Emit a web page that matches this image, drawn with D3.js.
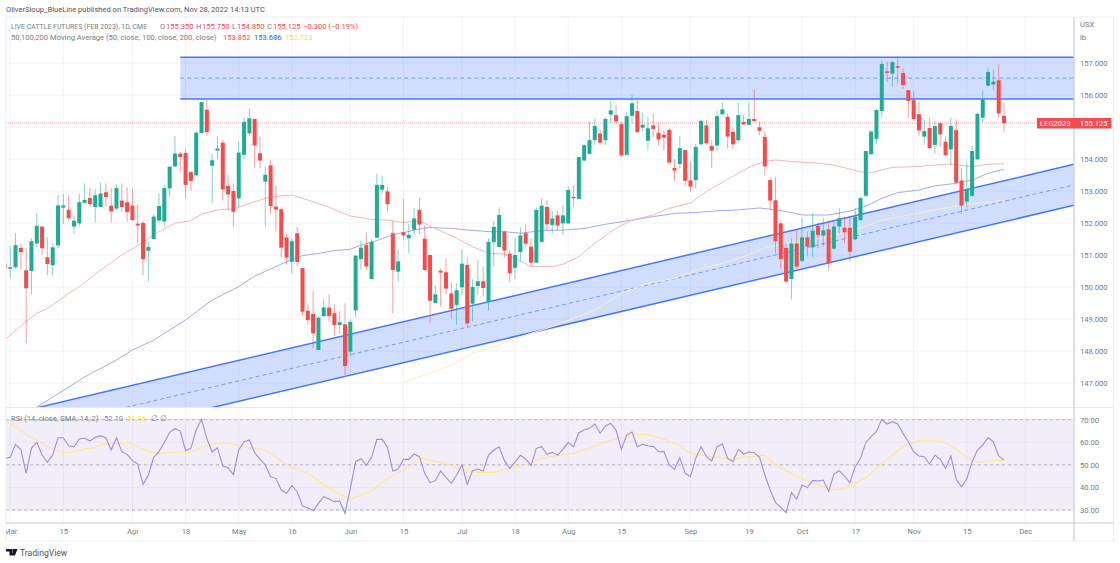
<!DOCTYPE html>
<html>
<head>
<meta charset="utf-8">
<title>Live Cattle Futures</title>
<script src="https://cdn.jsdelivr.net/npm/d3@7"></script>
<style>
	html, body { margin: 0; padding: 0; background: #fff; }
	svg { display: block; }
	text { font-family: Roboto, sans-serif; }
</style>
</head>
<body>
<div id="chart"></div>
<script>
// daily candles, day 0 is the first one at the left edge
var opens = [
	150.71,150.58,150.62,151.22,150.52,150.50,151.36,151.89,150.93,150.68,
	151.30,152.48,152.41,151.89,151.99,152.63,152.78,152.50,152.50,152.96,
	152.54,152.45,152.70,152.65,152.54,151.98,152.00,151.13,151.50,152.08,
	152.05,153.08,153.77,154.17,154.19,153.59,153.49,154.81,155.54,153.79,
	154.26,154.51,153.16,153.00,152.77,154.13,154.80,155.25,154.18,153.29,
	153.80,152.51,152.43,151.55,150.79,151.68,150.59,149.26,149.16,148.03,
	149.09,149.36,149.18,148.81,148.83,147.98,149.27,150.87,151.31,150.25,
	151.54,153.04,152.99,151.68,150.48,151.71,151.52,151.79,152.41,151.51,
	151.00,149.50,150.51,150.46,149.80,149.44,149.99,150.69,149.48,150.03,
	150.18,149.54,151.40,151.25,151.73,151.04,150.60,151.09,151.68,151.26,
	150.76,151.41,152.50,151.94,152.24,151.99,151.99,152.82,152.75,153.95,
	154.16,154.59,154.80,154.59,155.39,155.37,155.09,154.13,155.35,155.50,
	154.98,154.57,155.05,154.82,154.76,154.91,153.72,153.84,154.28,153.33,
	153.34,154.46,155.05,154.41,154.42,155.40,155.32,154.85,154.59,155.16,
	155.07,155.25,154.99,154.69,153.34,152.71,151.99,151.22,150.25,151.36,
	150.82,151.55,151.24,151.91,151.61,151.80,151.20,151.89,151.85,151.85,
	151.49,152.09,152.85,154.15,154.63,155.50,156.74,156.67,156.90,156.69,
	156.15,155.84,155.40,154.70,154.97,154.44,155.12,154.54,154.30,154.90,
	153.33,152.67,152.85,153.99,155.29,156.29,156.33,156.46,155.35
];
var highs = [
	150.71,151.28,151.68,151.36,151.21,151.52,152.30,151.89,151.55,151.36,
	152.88,152.91,152.87,152.22,152.91,153.24,153.10,153.06,153.26,153.24,
	153.08,153.20,153.24,153.11,153.08,152.59,152.07,151.42,152.28,152.91,
	153.19,153.78,154.72,154.23,154.30,153.63,154.89,155.78,155.86,154.16,
	154.72,154.59,153.50,153.24,154.54,155.30,155.58,155.25,154.70,153.76,
	153.97,153.16,152.49,151.68,151.52,151.87,150.59,149.49,149.87,149.09,
	149.62,149.77,149.44,149.25,149.49,148.99,151.00,151.45,151.70,151.49,
	153.55,153.48,153.12,152.06,151.18,152.76,151.97,152.46,152.78,151.92,
	151.00,150.04,150.58,150.90,150.15,150.12,151.18,150.93,150.24,150.86,
	150.64,151.52,152.07,152.49,151.76,151.16,151.52,151.87,151.96,151.52,
	152.49,152.77,152.72,152.37,152.37,152.55,153.14,153.19,154.07,154.47,
	155.17,155.27,154.91,155.32,155.80,155.69,155.17,155.48,156.00,155.86,
	155.45,155.32,155.43,155.12,154.91,154.98,154.00,154.72,154.28,153.92,
	154.47,155.24,155.22,154.59,155.50,155.77,155.43,154.98,155.77,155.37,
	155.77,156.18,155.17,154.88,153.43,153.43,152.09,151.36,151.52,151.78,
	152.15,151.73,152.30,152.01,152.15,152.09,152.09,152.46,152.20,152.22,
	152.46,152.82,154.26,154.89,155.58,157.07,157.04,157.07,157.23,156.83,
	156.16,156.13,155.79,155.22,155.29,155.20,155.15,154.72,155.30,155.24,
	153.71,153.86,154.41,155.45,156.13,156.86,156.80,156.96,155.75
];
var lows = [
	150.56,150.29,150.58,150.56,148.24,149.78,151.26,151.00,150.37,150.37,
	151.20,151.97,152.09,151.66,151.89,152.61,152.48,152.01,152.49,152.51,
	152.01,152.41,152.36,152.04,152.07,151.36,150.37,150.17,151.49,152.01,
	151.89,152.82,153.74,153.63,152.77,153.01,153.45,154.80,154.72,152.61,
	153.99,152.70,152.39,151.89,152.49,153.99,154.72,153.73,153.71,151.89,
	152.28,151.73,150.93,150.69,150.43,150.64,149.09,148.81,148.08,148.03,
	149.07,148.92,148.47,148.55,147.25,147.82,149.05,150.53,150.53,150.24,
	151.52,152.92,152.34,149.18,150.17,151.45,151.05,151.63,151.66,150.51,
	148.88,149.49,149.39,149.78,149.01,148.81,149.75,148.76,148.92,149.75,
	149.70,149.26,150.64,151.23,150.92,150.15,150.25,150.79,151.23,150.64,
	150.75,151.39,151.78,151.68,151.76,151.63,151.97,152.51,152.75,153.94,
	154.15,154.44,154.44,154.44,155.12,155.12,154.07,154.11,155.12,154.82,
	154.85,154.28,154.68,154.42,154.26,153.81,153.31,153.70,153.16,152.98,
	153.08,154.44,154.44,153.71,154.26,155.37,154.33,154.31,154.54,155.06,
	155.05,155.17,154.75,153.50,152.41,151.05,150.58,150.11,149.61,150.58,
	150.79,150.95,150.93,151.21,151.26,150.53,151.16,151.68,151.36,150.79,
	151.47,152.07,152.80,154.12,154.47,155.32,156.42,156.26,156.36,156.19,
	155.27,155.19,154.72,154.44,154.31,154.18,154.39,154.09,153.81,153.22,
	152.28,152.49,152.82,153.97,155.13,156.26,156.16,155.28,154.85
];
var closes = [
	150.56,150.62,151.31,151.09,149.96,151.43,151.91,151.21,150.72,151.24,
	152.55,152.55,152.15,152.07,152.65,152.72,152.59,152.87,152.92,152.81,
	152.36,153.09,152.50,152.34,152.09,151.92,150.87,151.25,152.20,152.53,
	153.09,153.76,154.17,154.06,153.19,153.31,154.82,155.78,154.84,153.96,
	154.33,153.05,152.89,152.35,154.20,155.16,155.27,154.42,153.95,153.51,
	152.53,152.42,151.23,150.92,151.43,150.78,149.23,148.97,148.55,149.04,
	149.36,149.09,148.81,148.90,147.53,148.91,150.98,151.23,150.64,151.41,
	153.19,153.19,152.59,150.53,150.80,151.61,151.63,152.14,151.95,150.53,
	149.57,149.77,150.45,149.95,149.32,149.90,150.73,148.86,150.00,150.18,
	149.97,151.41,151.88,152.25,151.14,150.43,151.00,151.61,151.35,150.76,
	152.41,152.54,151.96,152.14,151.92,152.24,153.03,152.77,154.06,154.43,
	154.59,155.03,154.51,155.25,155.52,155.18,154.11,155.34,155.74,154.84,
	155.07,154.96,154.94,154.61,154.67,153.89,153.64,154.34,153.32,153.14,
	154.38,155.19,154.49,154.26,155.34,155.55,154.70,154.46,155.37,155.08,
	155.25,155.18,154.88,153.77,152.70,151.43,150.87,150.17,151.36,150.64,
	151.55,151.26,151.76,151.62,151.77,150.74,151.89,152.15,151.71,151.10,
	152.20,152.78,154.25,154.86,155.53,156.97,156.69,157.03,156.85,156.31,
	155.81,155.25,154.89,154.87,154.34,155.03,154.77,154.12,155.03,153.26,
	152.54,153.05,154.25,155.41,155.87,156.72,156.42,155.42,155.125
];

// moving averages: the day of each bend, and the price there
var ma50Days = [0,4,6,8,12,14,18,22,25,29,32,35,37,40,43,46,49,52,54,57,61,65,69,72,75,78,81,85,88,91,94,96,99,103,105,108,111,115,118,122,125,129,132,136,140,143,145,148,153,156,161,163,167,171,175,178,182,185,188];
var ma50Values = [148.35,148.92,149.18,149.33,149.80,150.01,150.53,151.00,151.29,151.73,151.99,152.07,152.28,152.41,152.44,152.61,152.77,152.85,152.87,152.72,152.49,152.22,152.11,152.09,152.02,152.06,151.83,151.52,151.26,151.05,151.03,150.90,150.64,150.64,150.71,150.95,151.37,151.83,152.09,152.25,152.46,152.62,152.98,153.37,153.74,153.92,153.97,153.92,153.87,153.81,153.60,153.57,153.74,153.76,153.81,153.84,153.76,153.84,153.852];
var ma100Days = [6,10,15,21,24,28,34,39,44,47,53,56,59,62,65,67,70,73,75,78,80,84,87,91,94,97,101,105,109,113,118,122,126,130,134,138,142,146,150,155,159,162,165,168,172,175,179,182,185,188];
var ma100Values = [146.25,146.66,147.19,147.72,148.03,148.34,148.97,149.59,150.01,150.34,150.79,150.98,151.05,151.14,151.18,151.31,151.45,151.63,151.70,151.81,151.86,151.83,151.78,151.73,151.73,151.68,151.76,151.78,151.83,151.96,152.09,152.20,152.30,152.33,152.38,152.41,152.47,152.39,152.25,152.25,152.37,152.53,152.77,152.95,153.03,153.16,153.24,153.34,153.55,153.686];
var ma200Days = [75,79,84,88,93,97,103,111,116,121,126,130,135,139,143,146,150,155,160,165,170,175,180,184,188];
var ma200Values = [147.02,147.25,147.56,147.93,148.19,148.45,148.76,149.28,149.80,150.11,150.27,150.53,150.74,150.95,151.21,151.33,151.42,151.57,151.78,152.09,152.25,152.41,152.56,152.63,152.723];

// one rsi reading per day
var rsiValues = [
	52.88,53.32,59.08,56.86,46.24,57.31,59.96,54.35,51.11,54.35,
	62.03,62.03,58.49,58.04,61.44,61.88,60.55,62.18,62.92,62.03,
	56.57,62.03,55.83,54.65,51.85,50.37,41.37,45.50,53.32,55.83,
	59.96,64.39,66.01,64.98,56.27,57.31,65.42,70.15,61.73,55.68,
	57.60,49.48,48.75,45.65,56.57,60.26,61.00,55.39,52.58,49.93,
	44.76,44.02,38.86,37.38,40.77,38.12,31.77,31.03,29.70,32.95,
	35.90,34.87,33.69,33.99,28.52,39.59,51.40,52.73,49.78,53.32,
	61.29,61.29,57.75,47.27,48.15,52.44,52.44,54.80,53.62,46.24,
	42.10,42.99,47.27,44.46,41.81,45.50,49.93,41.37,47.42,48.15,
	47.27,54.35,56.57,58.04,51.85,48.45,51.25,54.21,52.58,49.63,
	57.31,58.04,54.65,55.53,54.35,56.86,59.96,58.04,64.24,65.42,
	66.16,68.08,63.95,67.20,68.38,65.42,56.86,63.21,64.54,58.04,
	59.23,58.34,58.19,55.83,55.98,49.93,48.01,53.17,46.24,44.76,
	52.88,58.04,53.62,51.70,58.04,59.23,52.88,51.40,56.86,54.80,
	55.68,55.39,53.32,45.50,38.86,33.39,31.18,28.82,37.68,34.87,
	41.07,39.89,43.14,42.84,43.28,38.27,45.94,47.42,45.06,42.10,
	49.19,52.88,59.82,62.47,64.83,70.15,68.08,69.11,68.08,63.95,
	60.26,55.83,53.91,53.62,50.37,54.35,52.44,48.45,53.91,43.58,
	40.33,43.73,51.40,56.57,58.78,62.03,60.26,53.91,52.10
];
var rsiMaDays = [0,2,4,6,8,10,11,13,15,17,18,21,23,25,27,29,31,33,35,37,40,42,45,49,51,53,56,58,60,63,65,67,69,72,74,76,78,82,86,89,92,95,98,101,104,107,110,113,116,119,121,124,127,129,131,134,137,139,143,145,149,152,156,158,162,165,169,172,176,178,181,183,186,188];
var rsiMaValues = [69.56,66.90,63.50,61.00,58.04,56.13,55.39,55.83,57.16,57.60,58.93,59.52,59.96,58.04,55.83,55.09,55.39,55.83,55.53,57.60,59.82,59.52,58.04,56.57,53.32,49.93,47.42,44.76,41.07,37.08,34.72,36.64,38.41,44.02,46.53,49.19,53.17,51.11,48.01,46.68,46.68,48.75,49.93,52.88,54.21,55.09,57.31,60.26,62.03,63.50,63.50,61.29,58.49,55.09,54.35,53.32,52.44,53.32,54.21,49.93,45.06,41.81,38.86,39.59,44.32,50.66,58.04,60.70,60.70,58.49,53.32,51.11,51.85,51.96];

// drawn zones: [left day, right day] and the prices at those ends
var zoneDays = [33, 201.15];
var zoneTop = [157.178, 157.178];
var zoneMid = [156.527, 156.527];
var zoneBottom = [155.875, 155.875];
var channelDays = [1, 201.15];
var channelTop = [146.03, 153.834];
var channelMid = [145.39, 153.19];
var channelBottom = [144.75, 152.553];

var priceTicks = [147, 148, 149, 150, 151, 152, 153, 154, 155, 156, 157];
var priceLabels = [147, 148, 149, 150, 151, 152, 153, 154, 156, 157]; // 155 sits under the last price tag
var rsiTicks = [30, 40, 50, 60, 70];
var rsiLevels = [30, 50, 70];
var tickDays = [1, 11, 24, 34, 44, 54, 65, 75, 86, 96, 106, 116, 129, 140, 150, 160, 171, 181, 192];
var tickLabels = ["Mar", "15", "Apr", "18", "May", "16", "Jun", "15", "Jul", "18", "Aug", "15", "Sep", "19", "Oct", "17", "Nov", "15", "Dec"];
var lastPrice = 155.125;

var width = 1120, height = 563,
	paneLeft = 6, paneRight = 1074, frameRight = 1113.5,
	paneTop = 17, mainBottom = 407.5, rsiBottom = 523, frameBottom = 541,
	fontSize = 7.6;

var green = "#22ab94", red = "#f44c4c", blue = "#2962ff", gray = "#787b86", grid = "#f2f3f8";

var x = d3.scaleLinear().domain([1, 188]).range([10.2, 1004]);
var y = d3.scaleLinear().domain([150, 157]).range([287, 63]);
var yRsi = d3.scaleLinear().domain([30, 70]).range([510, 419.7]);

var svg = d3.select("#chart").append("svg")
	.attr("width", width)
	.attr("height", height);

var defs = svg.append("defs");
defs.append("clipPath").attr("id", "main-clip").append("rect")
	.attr("x", paneLeft).attr("y", paneTop).attr("width", paneRight - paneLeft).attr("height", mainBottom - paneTop);
defs.append("clipPath").attr("id", "rsi-clip").append("rect")
	.attr("x", paneLeft).attr("y", mainBottom).attr("width", paneRight - paneLeft).attr("height", rsiBottom - mainBottom);
defs.append("clipPath").attr("id", "time-clip").append("rect")
	.attr("x", paneLeft).attr("y", rsiBottom).attr("width", paneRight - paneLeft).attr("height", frameBottom - rsiBottom);

//grid
var gridLayer = svg.append("g");
gridLayer.selectAll(".v-grid")
	.data(tickDays)
	.enter()
	.append("line")
	.attr("x1", function(d) { return x(d); })
	.attr("x2", function(d) { return x(d); })
	.attr("y1", paneTop)
	.attr("y2", rsiBottom)
	.attr("stroke", grid);
gridLayer.selectAll(".h-grid")
	.data(priceTicks)
	.enter()
	.append("line")
	.attr("x1", paneLeft)
	.attr("x2", paneRight)
	.attr("y1", function(d) { return y(d); })
	.attr("y2", function(d) { return y(d); })
	.attr("stroke", grid);

var main = svg.append("g").attr("clip-path", "url(#main-clip)");

function drawBand(dayRange, upper, middle, lower) {
	var area = d3.area()
		.x(function(d, i) { return x(dayRange[i]); })
		.y0(function(d, i) { return y(lower[i]); })
		.y1(function(d, i) { return y(upper[i]); });
	var line = d3.line()
		.x(function(d, i) { return x(dayRange[i]); })
		.y(function(d) { return y(d); });

	main.append("path")
		.attr("d", area(dayRange))
		.attr("fill", blue)
		.attr("fill-opacity", 0.21);
	main.append("path").attr("d", line(upper)).attr("fill", "none").attr("stroke", blue).attr("stroke-opacity", 0.85).attr("stroke-width", 1.5);
	main.append("path").attr("d", line(lower)).attr("fill", "none").attr("stroke", blue).attr("stroke-opacity", 0.85).attr("stroke-width", 1.5);
	main.append("path").attr("d", line(middle)).attr("fill", "none").attr("stroke", blue).attr("stroke-opacity", 0.55).attr("stroke-dasharray", "4 3");
}

drawBand(zoneDays, zoneTop, zoneMid, zoneBottom);
drawBand(channelDays, channelTop, channelMid, channelBottom);

//moving averages
function drawMa(days, values, color) {
	var line = d3.line()
		.x(function(d, i) { return x(days[i]); })
		.y(function(d) { return y(d); });
	main.append("path")
		.attr("d", line(values))
		.attr("fill", "none")
		.attr("stroke", color)
		.attr("stroke-width", 1);
}

drawMa(ma200Days, ma200Values, "#fdeeb4");
drawMa(ma100Days, ma100Values, "#a3aaf2");
drawMa(ma50Days, ma50Values, "#f9b5b5");

//last price line
main.append("line")
	.attr("x1", paneLeft)
	.attr("x2", paneRight)
	.attr("y1", y(lastPrice))
	.attr("y2", y(lastPrice))
	.attr("stroke", red)
	.attr("stroke-opacity", 0.55)
	.attr("stroke-dasharray", "1 1");

//candles
var candles = main.selectAll(".candle")
	.data(opens)
	.enter()
	.append("g")
	.attr("class", "candle");

candles.append("line")
	.attr("x1", function(d, i) { return x(i); })
	.attr("x2", function(d, i) { return x(i); })
	.attr("y1", function(d, i) { return y(highs[i]); })
	.attr("y2", function(d, i) { return y(lows[i]); })
	.attr("stroke", function(d, i) { return closes[i] >= d ? green : red; })
	.attr("stroke-opacity", 0.55);

candles.append("rect")
	.attr("x", function(d, i) { return x(i) - 2; })
	.attr("width", 4)
	.attr("y", function(d, i) { return y(Math.max(d, closes[i])); })
	.attr("height", function(d, i) { return Math.max(1.5, Math.abs(y(d) - y(closes[i]))); })
	.attr("fill", function(d, i) { return closes[i] >= d ? green : red; });

//rsi pane
var rsiPane = svg.append("g").attr("clip-path", "url(#rsi-clip)");

rsiPane.append("rect")
	.attr("x", paneLeft)
	.attr("width", paneRight - paneLeft)
	.attr("y", yRsi(70))
	.attr("height", yRsi(30) - yRsi(70))
	.attr("fill", "#7e57c2")
	.attr("fill-opacity", 0.1);

rsiPane.selectAll(".rsi-grid")
	.data(rsiTicks)
	.enter()
	.append("line")
	.attr("x1", paneLeft)
	.attr("x2", paneRight)
	.attr("y1", function(d) { return yRsi(d); })
	.attr("y2", function(d) { return yRsi(d); })
	.attr("stroke", "#e9e6f4");

rsiPane.selectAll(".rsi-level")
	.data(rsiLevels)
	.enter()
	.append("line")
	.attr("x1", paneLeft)
	.attr("x2", paneRight)
	.attr("y1", function(d) { return yRsi(d); })
	.attr("y2", function(d) { return yRsi(d); })
	.attr("stroke", "#b4b4bc")
	.attr("stroke-dasharray", "3 3");

rsiPane.append("path")
	.attr("d", d3.line()
		.x(function(d, i) { return x(rsiMaDays[i]); })
		.y(function(d) { return yRsi(d); })(rsiMaValues))
	.attr("fill", "none")
	.attr("stroke", "#fde98b")
	.attr("stroke-width", 1.1);

rsiPane.append("path")
	.attr("d", d3.line()
		.x(function(d, i) { return x(i); })
		.y(function(d) { return yRsi(d); })(rsiValues))
	.attr("fill", "none")
	.attr("stroke", "#a18cdc")
	.attr("stroke-width", 1.1);

//frame
var frame = svg.append("g").attr("fill", "none");
frame.append("rect")
	.attr("x", paneLeft).attr("y", paneTop)
	.attr("width", frameRight - paneLeft).attr("height", frameBottom - paneTop)
	.attr("stroke", "#eceef3");
frame.append("line").attr("x1", paneLeft).attr("x2", frameRight).attr("y1", mainBottom).attr("y2", mainBottom).attr("stroke", "#e6e8ee");
frame.append("line").attr("x1", paneLeft).attr("x2", frameRight).attr("y1", rsiBottom).attr("y2", rsiBottom).attr("stroke", "#c9cbd3").attr("stroke-width", 1.2);
frame.append("line").attr("x1", paneRight).attr("x2", paneRight).attr("y1", paneTop).attr("y2", frameBottom).attr("stroke", "#c9cbd3").attr("stroke-width", 1.2);

//axes
function styleAxis(g) {
	g.select(".domain").remove();
	g.selectAll(".tick line").remove();
	g.selectAll("text")
		.attr("fill", gray)
		.style("font-family", "Roboto, sans-serif")
		.style("font-size", fontSize + "px");
}

svg.append("g")
	.attr("transform", "translate(" + (paneRight + 6) + ",0)")
	.call(d3.axisRight(y).tickValues(priceLabels).tickFormat(d3.format(".3f")).tickSize(0).tickPadding(0))
	.call(styleAxis);

svg.append("g")
	.attr("transform", "translate(" + (paneRight + 6) + ",0)")
	.call(d3.axisRight(yRsi).tickValues(rsiTicks).tickFormat(d3.format(".2f")).tickSize(0).tickPadding(0))
	.call(styleAxis);

svg.append("g")
	.attr("clip-path", "url(#time-clip)")
	.append("g")
	.attr("transform", "translate(0," + (rsiBottom + 5.5) + ")")
	.call(d3.axisBottom(x).tickValues(tickDays).tickFormat(function(d, i) { return tickLabels[i]; }).tickSize(0).tickPadding(0))
	.call(styleAxis);

//texts
function label(xPos, yPos, string, color, size) {
	return svg.append("text")
		.attr("x", xPos)
		.attr("y", yPos)
		.attr("fill", color)
		.style("font-size", (size || fontSize) + "px")
		.text(string);
}

label(6, 12, "OliverSloup_BlueLine published on TradingView.com, Nov 28, 2022 14:13 UTC", "#50535e", 7.55);
label(11, 29, "LIVE CATTLE FUTURES (FEB 2023), 1D, CME", gray, 6.95);
label(160, 29, "O", gray); label(166, 29, "155.350", red);
label(196, 29, "H", gray); label(202, 29, "155.750", red);
label(232, 29, "L", gray); label(237, 29, "154.850", red);
label(267, 29, "C", gray); label(273, 29, "155.125", red);
label(303, 29, "\u22120.300 (\u22120.19%)", red);
label(11, 39.5, "50,100,200 Moving Average (50, close, 100, close, 200, close)", gray);
label(223, 39.5, "153.852", red);
label(254, 39.5, "153.686", blue);
label(285, 39.5, "152.723", "#f7dc4e");

label(1080, 27, "USX", gray);
label(1080, 40, "lb", gray);

label(11, 420.5, "RSI (14, close, SMA, 14, 2)", gray);
label(104, 420.5, "52.10", "#8f78d0");
label(127, 420.5, "51.96", "#f7dc4e");
label(151, 420.5, "\u2205", gray);
label(160, 420.5, "\u2205", gray);

//last price tags
svg.append("rect")
	.attr("x", 1037).attr("width", 37)
	.attr("y", y(lastPrice) - 5).attr("height", 10.5)
	.attr("fill", red);
svg.append("rect")
	.attr("x", paneRight).attr("width", 37.5)
	.attr("y", y(lastPrice) - 5).attr("height", 10.5)
	.attr("fill", red);
label(1040, y(lastPrice) + 3, "LEG2023", "#fff");
label(1080, y(lastPrice) + 3, d3.format(".3f")(lastPrice), "#fff");

//logo
svg.append("path")
	.attr("d", "M6 549h6v6.5h-2.5v-4H6zM13 549h4.5l-2.6 6.5h-3.1z")
	.attr("fill", "#131722");
svg.append("circle").attr("cx", 13.6).attr("cy", 550.4).attr("r", 1.2).attr("fill", "#131722");
label(20, 555.5, "TradingView", "#50535e", 8.6);
</script>
</body>
</html>
